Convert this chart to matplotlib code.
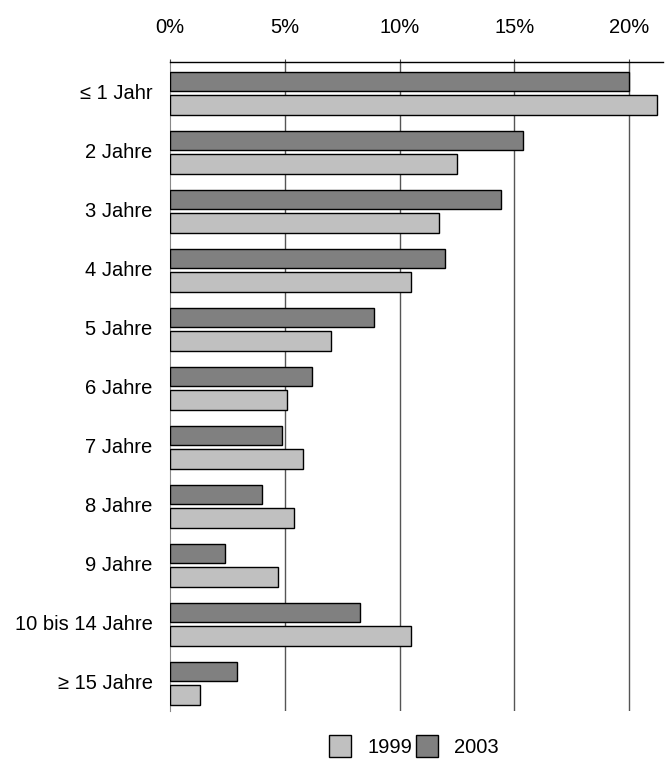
import numpy as np
import matplotlib.pyplot as plt
from matplotlib.patches import Patch

plt.rcParams['font.family'] = ['Liberation Sans', 'DejaVu Sans']

labels = ['≤ 1 Jahr', '2 Jahre', '3 Jahre', '4 Jahre', '5 Jahre', '6 Jahre',
          '7 Jahre', '8 Jahre', '9 Jahre', '10 bis 14 Jahre', '≥ 15 Jahre']
v2003 = [20.0, 15.4, 14.4, 12.0, 8.9, 6.2, 4.9, 4.0, 2.4, 8.3, 2.9]
v1999 = [21.2, 12.5, 11.7, 10.5, 7.0, 5.1, 5.8, 5.4, 4.7, 10.5, 1.3]
xticks = [0, 5, 10, 15, 20]
fs = 14.5

fig = plt.figure(figsize=(6.69, 7.6), dpi=100)
ax = fig.add_axes([170/669, 1-711/760, (663-170)/669, (711-62)/760])

y = np.arange(len(labels))
h = 0.33
ax.barh(y - 0.2, v2003, height=h, color='#808080', edgecolor='black', lw=1, zorder=3)
ax.barh(y + 0.2, v1999, height=h, color='#c0c0c0', edgecolor='black', lw=1, zorder=3)

ax.set_xlim(0, 21.48)
ax.set_ylim(10.47, -0.53)

# percent scale sits on top
ax.xaxis.tick_top()
ax.set_xticks(xticks)
ax.set_xticklabels([f'{t}%' for t in xticks], fontsize=fs)
ax.tick_params(axis='x', length=2, pad=16, color='#444444')
ax.set_yticks(y - 0.03)
ax.set_yticklabels(labels, fontsize=fs)
ax.tick_params(axis='y', length=0, pad=12.5)

for t in xticks[1:]:
    ax.axvline(t, color='#555555', lw=1, zorder=1)

for s in ['right', 'bottom']:
    ax.spines[s].set_visible(False)
ax.spines['top'].set_linewidth(1)
ax.spines['left'].set_color('#888888')

handles = [Patch(facecolor='#c0c0c0', edgecolor='black', label='1999'),
           Patch(facecolor='#808080', edgecolor='black', label='2003')]
fig.legend(handles=handles, loc='center', bbox_to_anchor=(414/669, 1-746/760),
           ncol=2, frameon=False, fontsize=fs, handlelength=1.09, handleheight=1.3,
           handletextpad=0.8, columnspacing=0.22, borderpad=0.2)

fig.savefig('out.png', dpi=100)
